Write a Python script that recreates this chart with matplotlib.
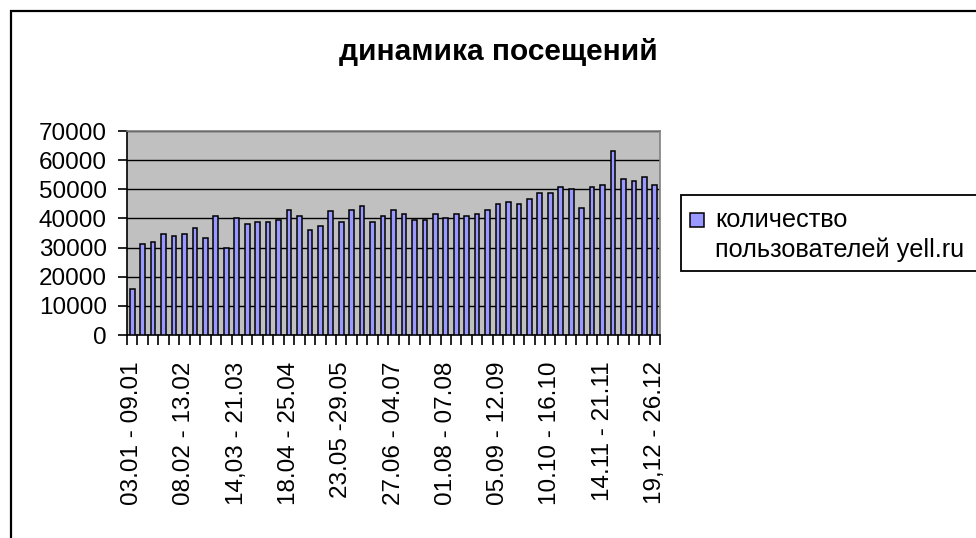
import matplotlib.pyplot as plt
from matplotlib.patches import Rectangle
import numpy as np

plt.rcParams["font.family"] = ["Liberation Sans", "DejaVu Sans"]

# weekly visitors, 51 weeks
visits = [
    15800, 31200, 32000, 34700, 34000, 34700, 36800, 33300, 40900, 29700,
    40200, 38100, 38800, 38800, 39500, 43000, 40900, 36100, 37400, 42400,
    38800, 43000, 44300, 38800, 40900, 43000, 41600, 39500, 39500, 41600,
    40200, 41600, 40900, 41600, 43000, 45000, 45800, 45000, 46500, 48600,
    48600, 50700, 50000, 43700, 50700, 51400, 63200, 53400, 52700, 54100,
    51400,
]
# labels shown on the axis (every 5th week)
label_pos = [0, 5, 10, 15, 20, 25, 30, 35, 40, 45, 50]
week_labels = [
    "03.01 - 09.01", "08.02 - 13.02", "14,03 - 21.03", "18.04 - 25.04",
    "23.05 -29.05", "27.06 - 04.07", "01.08 - 07.08", "05.09 - 12.09",
    "10.10 - 16.10", "14.11 - 21.11", "19,12 - 26.12",
]
y_ticks = [0, 10000, 20000, 30000, 40000, 50000, 60000, 70000]
series_name = ["количество", "пользователей yell.ru"]

W, H = 976, 538
fig = plt.figure(figsize=(W / 100, H / 100), dpi=100)


def fx(px):
    return px / W


def fy(py):
    return 1 - py / H


# chart area border (only left and top visible)
fig.patches.append(Rectangle((fx(10.5), -0.2), 1.2, fy(10.5) + 0.2,
                             transform=fig.transFigure, fill=False,
                             edgecolor="black", linewidth=1.6))

ax = fig.add_axes([fx(127), fy(335), fx(660 - 127), (335 - 131) / H])
ax.set_facecolor("#C0C0C0")

bar_color = "#9999FF"
x = np.arange(len(visits))
ax.bar(x, visits, width=0.45, color=bar_color, edgecolor="black",
       linewidth=1.1, zorder=3)

ax.set_xlim(-0.5, len(visits) - 0.5)
ax.set_ylim(0, 70000)
ax.set_yticks(y_ticks)
ax.yaxis.grid(True, color="black", linewidth=1.0, zorder=1)
ax.set_axisbelow(True)

ax.set_xticks(label_pos)
ax.set_xticklabels(week_labels, rotation=90, fontsize=17.5)
ax.set_xticks(np.arange(-0.5, len(visits), 1), minor=True)
ax.tick_params(axis="x", which="major", length=0, pad=19)
ax.tick_params(axis="x", which="minor", length=7, width=1.2, direction="out")
ax.tick_params(axis="y", labelsize=17.5, length=6.5, width=1.2, pad=8)

for s in ["top", "right"]:
    ax.spines[s].set_color("#808080")
    ax.spines[s].set_linewidth(1.2)
for s in ["left", "bottom"]:
    ax.spines[s].set_color("black")
    ax.spines[s].set_linewidth(1.2)

fig.text(fx(498), fy(52), "динамика посещений", ha="center", va="center",
         fontsize=21.5, fontweight="bold")

# legend box, cut off by the right edge like in the original
fig.patches.append(Rectangle((fx(681), fy(271)), 0.5, (271 - 195) / H,
                             transform=fig.transFigure, facecolor="white",
                             edgecolor="black", linewidth=1.3))
fig.patches.append(Rectangle((fx(690), fy(227)), fx(14), 14 / H,
                             transform=fig.transFigure, facecolor=bar_color,
                             edgecolor="black", linewidth=1.1))
fig.text(fx(715), fy(227), series_name[0], ha="left", va="baseline",
         fontsize=18.2)
fig.text(fx(715), fy(257), series_name[1], ha="left", va="baseline",
         fontsize=18.2)

fig.savefig("out.png", dpi=100)
